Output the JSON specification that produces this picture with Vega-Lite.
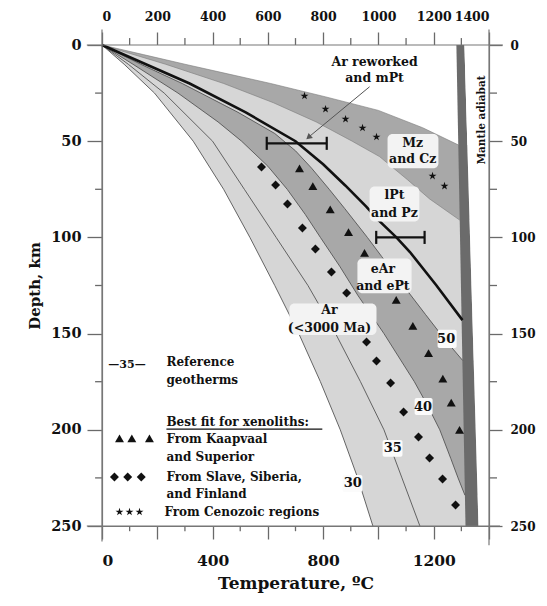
{
  "$schema": "https://vega.github.io/schema/vega-lite/v6.json",
  "width": 387,
  "height": 481,
  "autosize": {"type": "none"},
  "padding": {"left": 102, "top": 45, "right": 58, "bottom": 80},
  "background": "white",
  "config": {
    "view": {"stroke": null},
    "axis": {"labelFont": "DejaVu Serif", "labelFontWeight": "bold", "labelColor": "#111", "titleFont": "DejaVu Serif", "titleFontWeight": "bold", "titleColor": "#111", "domainColor": "#777", "domainWidth": 1.2, "tickColor": "#6a6a6a", "tickWidth": 1.3, "ticks": true, "grid": false, "zindex": 1},
    "text": {"font": "DejaVu Serif", "fontWeight": "bold", "color": "#111"}
  },
  "datasets": {
    "curves": [
      {"c": "top", "z": 0, "T": 0}, {"c": "top", "z": 5, "T": 150}, {"c": "top", "z": 10, "T": 300}, {"c": "top", "z": 15, "T": 455}, {"c": "top", "z": 20, "T": 610}, {"c": "top", "z": 27, "T": 810}, {"c": "top", "z": 34, "T": 1000}, {"c": "top", "z": 43, "T": 1160}, {"c": "top", "z": 52, "T": 1290},
      {"c": "b2", "z": 0, "T": 0}, {"c": "b2", "z": 10, "T": 230}, {"c": "b2", "z": 20, "T": 440}, {"c": "b2", "z": 30, "T": 620}, {"c": "b2", "z": 40, "T": 775}, {"c": "b2", "z": 50, "T": 905}, {"c": "b2", "z": 58, "T": 1004}, {"c": "b2", "z": 70, "T": 1105}, {"c": "b2", "z": 80, "T": 1185}, {"c": "b2", "z": 91, "T": 1294},
      {"c": "b3", "z": 0, "T": 0}, {"c": "b3", "z": 10, "T": 140}, {"c": "b3", "z": 20, "T": 290}, {"c": "b3", "z": 35, "T": 492}, {"c": "b3", "z": 46, "T": 625}, {"c": "b3", "z": 55, "T": 700}, {"c": "b3", "z": 64, "T": 758}, {"c": "b3", "z": 75, "T": 822}, {"c": "b3", "z": 85, "T": 878}, {"c": "b3", "z": 100, "T": 960}, {"c": "b3", "z": 110, "T": 1012}, {"c": "b3", "z": 125, "T": 1090}, {"c": "b3", "z": 140, "T": 1170}, {"c": "b3", "z": 153, "T": 1240}, {"c": "b3", "z": 164, "T": 1305},
      {"c": "b4", "z": 0, "T": 0}, {"c": "b4", "z": 10, "T": 112}, {"c": "b4", "z": 25, "T": 275}, {"c": "b4", "z": 40, "T": 420}, {"c": "b4", "z": 50, "T": 505}, {"c": "b4", "z": 63, "T": 600}, {"c": "b4", "z": 75, "T": 670}, {"c": "b4", "z": 88, "T": 735}, {"c": "b4", "z": 100, "T": 790}, {"c": "b4", "z": 115, "T": 860}, {"c": "b4", "z": 130, "T": 925}, {"c": "b4", "z": 150, "T": 1020}, {"c": "b4", "z": 175, "T": 1130}, {"c": "b4", "z": 188, "T": 1180}, {"c": "b4", "z": 200, "T": 1222}, {"c": "b4", "z": 215, "T": 1262}, {"c": "b4", "z": 225, "T": 1288}, {"c": "b4", "z": 234, "T": 1313},
      {"c": "g35", "z": 0, "T": 0}, {"c": "g35", "z": 10, "T": 95}, {"c": "g35", "z": 25, "T": 225}, {"c": "g35", "z": 50, "T": 400}, {"c": "g35", "z": 75, "T": 515}, {"c": "g35", "z": 100, "T": 630}, {"c": "g35", "z": 125, "T": 745}, {"c": "g35", "z": 150, "T": 845}, {"c": "g35", "z": 175, "T": 935}, {"c": "g35", "z": 200, "T": 1020}, {"c": "g35", "z": 225, "T": 1085}, {"c": "g35", "z": 250, "T": 1150},
      {"c": "g30", "z": 0, "T": 0}, {"c": "g30", "z": 10, "T": 80}, {"c": "g30", "z": 25, "T": 190}, {"c": "g30", "z": 50, "T": 330}, {"c": "g30", "z": 75, "T": 440}, {"c": "g30", "z": 100, "T": 535}, {"c": "g30", "z": 125, "T": 625}, {"c": "g30", "z": 150, "T": 712}, {"c": "g30", "z": 175, "T": 790}, {"c": "g30", "z": 200, "T": 862}, {"c": "g30", "z": 225, "T": 925}, {"c": "g30", "z": 250, "T": 980},
      {"c": "ar", "z": 0, "T": 0}, {"c": "ar", "z": 20, "T": 317}, {"c": "ar", "z": 35, "T": 520}, {"c": "ar", "z": 50, "T": 700}, {"c": "ar", "z": 62, "T": 800}, {"c": "ar", "z": 73, "T": 880}, {"c": "ar", "z": 84, "T": 956}, {"c": "ar", "z": 91, "T": 1000}, {"c": "ar", "z": 100, "T": 1065}, {"c": "ar", "z": 107.6, "T": 1114}, {"c": "ar", "z": 125, "T": 1210}, {"c": "ar", "z": 143, "T": 1304}
    ],
    "adiabat": [
      {"z": 0, "T": 1282, "T2": 1311},
      {"z": 250, "T": 1315, "T2": 1362}
    ],
    "errbar": [
      {"z": 51.1, "T": 596, "T2": 813},
      {"z": 100, "T": 992, "T2": 1167}
    ],
    "caps": [
      {"T": 596, "z": 47.7, "z2": 54.5}, {"T": 813, "z": 47.7, "z2": 54.5},
      {"T": 992, "z": 96.6, "z2": 103.4}, {"T": 1167, "z": 96.6, "z2": 103.4}
    ],
    "arrow": [
      {"T": 968, "z": 21.7}, {"T": 744, "z": 48.3}
    ],
    "arrowhead": [
      {"T": 747, "z": 48.0}
    ],
    "xeno": [
      {"k": "tri", "T": 714.5, "z": 64.1}, {"k": "tri", "T": 762.7, "z": 73.3}, {"k": "tri", "T": 825.6, "z": 85.4}, {"k": "tri", "T": 891.8, "z": 97.2}, {"k": "tri", "T": 949.7, "z": 108.1}, {"k": "tri", "T": 1064.4, "z": 132.5}, {"k": "tri", "T": 1124.5, "z": 146}, {"k": "tri", "T": 1181.3, "z": 160.2}, {"k": "tri", "T": 1233, "z": 173.4}, {"k": "tri", "T": 1263.4, "z": 185.9}, {"k": "tri", "T": 1293.4, "z": 200.1},
      {"k": "dia", "T": 577, "z": 63.4}, {"k": "dia", "T": 628, "z": 72.8}, {"k": "dia", "T": 671, "z": 82.6}, {"k": "dia", "T": 725, "z": 95.1}, {"k": "dia", "T": 772, "z": 106}, {"k": "dia", "T": 830, "z": 118}, {"k": "dia", "T": 885, "z": 128.9}, {"k": "dia", "T": 957, "z": 154.4}, {"k": "dia", "T": 993, "z": 164.2}, {"k": "dia", "T": 1044, "z": 175.7}, {"k": "dia", "T": 1091, "z": 190.7}, {"k": "dia", "T": 1145, "z": 203.7}, {"k": "dia", "T": 1185, "z": 214.7}, {"k": "dia", "T": 1232, "z": 225.6}, {"k": "dia", "T": 1279, "z": 239.1},
      {"k": "star", "T": 732.6, "z": 26.5}, {"k": "star", "T": 808.6, "z": 33.3}, {"k": "star", "T": 881, "z": 38.5}, {"k": "star", "T": 942.5, "z": 43.1}, {"k": "star", "T": 993, "z": 47.8}, {"k": "star", "T": 1195.7, "z": 68.1}, {"k": "star", "T": 1239, "z": 73.3},
      {"k": "tri", "T": 63.3, "z": 204.5}, {"k": "tri", "T": 107.9, "z": 204.5}, {"k": "tri", "T": 171.6, "z": 204.5},
      {"k": "dia", "T": 45, "z": 224.5}, {"k": "dia", "T": 93, "z": 224.5}, {"k": "dia", "T": 142, "z": 224.5},
      {"k": "star", "T": 63.3, "z": 242.7}, {"k": "star", "T": 99.5, "z": 242.7}, {"k": "star", "T": 135.7, "z": 242.7}
    ],
    "boxes": [
      {"g": "region", "T": 1033, "T2": 1217, "z": 46.3, "z2": 64},
      {"g": "region", "T": 968, "T2": 1148, "z": 73.6, "z2": 91.8},
      {"g": "region", "T": 924, "T2": 1120, "z": 111, "z2": 129},
      {"g": "region", "T": 678, "T2": 993, "z": 134.3, "z2": 150.7},
      {"g": "num", "T": 1214, "T2": 1283, "z": 148, "z2": 157.5},
      {"g": "num", "T": 1131, "T2": 1196, "z": 183.5, "z2": 192.3},
      {"g": "num", "T": 1015, "T2": 1087, "z": 205.3, "z2": 214},
      {"g": "num", "T": 870, "T2": 942, "z": 223.5, "z2": 232.3}
    ],
    "labels": [
      {"g": "region", "text": "Ar reworked", "T": 986, "z": 8.7},
      {"g": "region", "text": "and mPt", "T": 986, "z": 17.3},
      {"g": "region", "text": "Mz", "T": 1124, "z": 50.9},
      {"g": "region", "text": "and Cz", "T": 1124, "z": 59.3},
      {"g": "region", "text": "lPt", "T": 1058, "z": 78},
      {"g": "region", "text": "and Pz", "T": 1058, "z": 87.2},
      {"g": "region", "text": "eAr", "T": 1016, "z": 116.6},
      {"g": "region", "text": "and ePt", "T": 1016, "z": 125.1},
      {"g": "region", "text": "Ar", "T": 823, "z": 137.7},
      {"g": "region", "text": "(<3000 Ma)", "T": 823, "z": 147.2},
      {"g": "num", "text": "50", "T": 1245, "z": 153},
      {"g": "num", "text": "40", "T": 1161, "z": 188},
      {"g": "num", "text": "35", "T": 1052, "z": 209.3},
      {"g": "num", "text": "30", "T": 907, "z": 227.8},
      {"g": "key", "text": "—35—", "T": 90.4, "z": 166.3},
      {"g": "legend", "text": "Reference", "T": 233, "z": 164.8},
      {"g": "legend", "text": "geotherms", "T": 233, "z": 174.1},
      {"g": "legend", "text": "Best fit for xenoliths:", "T": 233, "z": 195.9},
      {"g": "legend", "text": "From Kaapvaal", "T": 233, "z": 204.8},
      {"g": "legend", "text": "and Superior", "T": 233, "z": 214.1},
      {"g": "legend", "text": "From Slave, Siberia,", "T": 233, "z": 224.5},
      {"g": "legend", "text": "and Finland", "T": 233, "z": 233.4},
      {"g": "legend", "text": "From Cenozoic regions", "T": 226, "z": 242.7},
      {"g": "mantle", "text": "Mantle adiabat", "T": 1373, "z": 39}
    ],
    "underline": [
      {"T": 233, "T2": 797, "z": 199.6}
    ],
    "minor": [
      {"T": 100, "T2": 100, "z": 250, "z2": 252.7}, {"T": 300, "T2": 300, "z": 250, "z2": 252.7}, {"T": 500, "T2": 500, "z": 250, "z2": 252.7}, {"T": 700, "T2": 700, "z": 250, "z2": 252.7}, {"T": 900, "T2": 900, "z": 250, "z2": 252.7}, {"T": 1100, "T2": 1100, "z": 250, "z2": 252.7}, {"T": 1300, "T2": 1300, "z": 250, "z2": 252.7},
      {"T": 100, "T2": 100, "z": 0, "z2": -3.6}, {"T": 300, "T2": 300, "z": 0, "z2": -3.6}, {"T": 500, "T2": 500, "z": 0, "z2": -3.6}, {"T": 700, "T2": 700, "z": 0, "z2": -3.6}, {"T": 900, "T2": 900, "z": 0, "z2": -3.6}, {"T": 1100, "T2": 1100, "z": 0, "z2": -3.6}, {"T": 1300, "T2": 1300, "z": 0, "z2": -3.6},
      {"T": 0, "T2": -25, "z": 25, "z2": 25}, {"T": 0, "T2": -25, "z": 75, "z2": 75}, {"T": 0, "T2": -25, "z": 125, "z2": 125}, {"T": 0, "T2": -25, "z": 175, "z2": 175}, {"T": 0, "T2": -25, "z": 225, "z2": 225},
      {"T": 1400, "T2": 1429, "z": 25, "z2": 25}, {"T": 1400, "T2": 1429, "z": 75, "z2": 75}, {"T": 1400, "T2": 1429, "z": 125, "z2": 125}, {"T": 1400, "T2": 1429, "z": 175, "z2": 175}, {"T": 1400, "T2": 1429, "z": 225, "z2": 225}
    ],
    "frame": [
      {"T": -55, "T2": 1450, "z": 0, "z2": 0},
      {"T": -55, "T2": 1440, "z": 250, "z2": 250},
      {"T": 0, "T2": 0, "z": -8, "z2": 258},
      {"T": 1400, "T2": 1400, "z": -8, "z2": 260}
    ]
  },
  "resolve": {"axis": {"x": "independent", "y": "independent"}},
  "layer": [
    {
      "data": {"name": "curves"},
      "transform": [{"filter": "datum.c == 'g30'"}],
      "mark": {"type": "area", "orient": "horizontal", "color": "#d6d6d6"},
      "encoding": {
        "y": {"field": "z", "type": "quantitative", "scale": {"domain": [0, 250], "reverse": true, "nice": false, "zero": false},
          "axis": {"orient": "left", "values": [0, 50, 100, 150, 200, 250], "format": "d", "tickSize": 15, "labelFontSize": 14.5, "labelPadding": 6, "title": "Depth, km", "titleFontSize": 15, "titlePadding": 8}},
        "x": {"field": "T", "type": "quantitative", "scale": {"domain": [0, 1400], "nice": false, "zero": false},
          "axis": {"orient": "bottom", "values": [0, 200, 400, 600, 800, 1000, 1200, 1400], "format": "d", "labelExpr": "datum.value % 400 == 0 ? datum.label : ''", "tickSize": 13, "labelFontSize": 15.5, "labelPadding": 14, "title": "Temperature, ºC", "titleFontSize": 17, "titlePadding": 7}},
        "x2": {"datum": 1400}
      }
    },
    {
      "data": {"name": "curves"},
      "transform": [{"filter": "datum.c == 'b4'"}],
      "mark": {"type": "area", "orient": "horizontal", "color": "#a8a8a8"},
      "encoding": {
        "y": {"field": "z", "type": "quantitative", "axis": null},
        "x": {"field": "T", "type": "quantitative", "axis": null},
        "x2": {"datum": 1400}
      }
    },
    {
      "data": {"name": "curves"},
      "transform": [{"filter": "datum.c == 'b3'"}],
      "mark": {"type": "area", "orient": "horizontal", "color": "#d6d6d6"},
      "encoding": {
        "y": {"field": "z", "type": "quantitative", "axis": null},
        "x": {"field": "T", "type": "quantitative", "axis": null},
        "x2": {"datum": 1400}
      }
    },
    {
      "data": {"name": "curves"},
      "transform": [{"filter": "datum.c == 'b2'"}],
      "mark": {"type": "area", "orient": "horizontal", "color": "#a8a8a8"},
      "encoding": {
        "y": {"field": "z", "type": "quantitative", "axis": null},
        "x": {"field": "T", "type": "quantitative", "axis": null},
        "x2": {"datum": 1400}
      }
    },
    {
      "data": {"name": "curves"},
      "transform": [{"filter": "datum.c == 'top'"}],
      "mark": {"type": "area", "orient": "horizontal", "color": "#ffffff"},
      "encoding": {
        "y": {"field": "z", "type": "quantitative", "axis": null},
        "x": {"field": "T", "type": "quantitative", "axis": null},
        "x2": {"datum": 1400}
      }
    },
    {
      "data": {"name": "adiabat"},
      "mark": {"type": "area", "orient": "horizontal", "color": "#6b6b6b"},
      "encoding": {
        "y": {"field": "z", "type": "quantitative", "axis": null},
        "x": {"field": "T", "type": "quantitative", "axis": null},
        "x2": {"field": "T2"}
      }
    },
    {
      "data": {"name": "adiabat"},
      "mark": {"type": "area", "orient": "horizontal", "color": "#ffffff"},
      "encoding": {
        "y": {"field": "z", "type": "quantitative", "axis": null},
        "x": {"field": "T2", "type": "quantitative", "axis": null},
        "x2": {"datum": 1400}
      }
    },
    {
      "data": {"name": "curves"},
      "transform": [{"filter": "datum.c == 'top' || datum.c == 'b2'"}],
      "mark": {"type": "line", "color": "#7a7a7a", "strokeWidth": 0.6},
      "encoding": {
        "y": {"field": "z", "type": "quantitative", "axis": null},
        "x": {"field": "T", "type": "quantitative", "axis": null},
        "detail": {"field": "c"},
        "order": {"field": "z", "type": "quantitative"}
      }
    },
    {
      "data": {"name": "curves"},
      "transform": [{"filter": "datum.c == 'g30' || datum.c == 'g35' || datum.c == 'b3' || datum.c == 'b4'"}],
      "mark": {"type": "line", "color": "#555555", "strokeWidth": 0.9},
      "encoding": {
        "y": {"field": "z", "type": "quantitative", "axis": null},
        "x": {"field": "T", "type": "quantitative", "axis": null},
        "detail": {"field": "c"},
        "order": {"field": "z", "type": "quantitative"}
      }
    },
    {
      "data": {"name": "curves"},
      "transform": [{"filter": "datum.c == 'ar'"}],
      "mark": {"type": "line", "color": "#111111", "strokeWidth": 2.6},
      "encoding": {
        "y": {"field": "z", "type": "quantitative", "axis": null},
        "x": {"field": "T", "type": "quantitative", "axis": null},
        "order": {"field": "z", "type": "quantitative"}
      }
    },
    {
      "data": {"name": "errbar"},
      "mark": {"type": "rule", "color": "#111111", "strokeWidth": 2.2},
      "encoding": {
        "y": {"field": "z", "type": "quantitative", "axis": null},
        "x": {"field": "T", "type": "quantitative", "axis": null},
        "x2": {"field": "T2"}
      }
    },
    {
      "data": {"name": "caps"},
      "mark": {"type": "rule", "color": "#111111", "strokeWidth": 2.2},
      "encoding": {
        "y": {"field": "z", "type": "quantitative", "axis": null},
        "y2": {"field": "z2"},
        "x": {"field": "T", "type": "quantitative", "axis": null}
      }
    },
    {
      "data": {"name": "arrow"},
      "mark": {"type": "line", "color": "#555555", "strokeWidth": 1},
      "encoding": {
        "y": {"field": "z", "type": "quantitative", "axis": null},
        "x": {"field": "T", "type": "quantitative", "axis": null}
      }
    },
    {
      "data": {"name": "arrowhead"},
      "mark": {"type": "point", "shape": "triangle-up", "angle": 230, "size": 45, "filled": true, "color": "#555555", "opacity": 1},
      "encoding": {
        "y": {"field": "z", "type": "quantitative", "axis": null},
        "x": {"field": "T", "type": "quantitative", "axis": null}
      }
    },
    {
      "data": {"name": "xeno"},
      "transform": [{"filter": "datum.k == 'tri'"}],
      "mark": {"type": "point", "shape": "triangle-up", "size": 80, "filled": true, "color": "#111111", "opacity": 1},
      "encoding": {
        "y": {"field": "z", "type": "quantitative", "axis": null},
        "x": {"field": "T", "type": "quantitative", "axis": null}
      }
    },
    {
      "data": {"name": "xeno"},
      "transform": [{"filter": "datum.k == 'dia'"}],
      "mark": {"type": "point", "shape": "diamond", "size": 80, "filled": true, "color": "#111111", "opacity": 1},
      "encoding": {
        "y": {"field": "z", "type": "quantitative", "axis": null},
        "x": {"field": "T", "type": "quantitative", "axis": null}
      }
    },
    {
      "data": {"name": "xeno"},
      "transform": [{"filter": "datum.k == 'star'"}],
      "mark": {"type": "point", "shape": "M0,-1L0.2245,-0.309L0.951,-0.309L0.363,0.118L0.588,0.809L0,0.382L-0.588,0.809L-0.363,0.118L-0.951,-0.309L-0.2245,-0.309Z", "size": 70, "filled": true, "color": "#111111", "opacity": 1},
      "encoding": {
        "y": {"field": "z", "type": "quantitative", "axis": null},
        "x": {"field": "T", "type": "quantitative", "axis": null}
      }
    },
    {
      "data": {"name": "boxes"},
      "transform": [{"filter": "datum.g == 'region'"}],
      "mark": {"type": "rect", "color": "#f3f3f3", "cornerRadius": 5},
      "encoding": {
        "y": {"field": "z", "type": "quantitative", "axis": null},
        "y2": {"field": "z2"},
        "x": {"field": "T", "type": "quantitative", "axis": null},
        "x2": {"field": "T2"}
      }
    },
    {
      "data": {"name": "boxes"},
      "transform": [{"filter": "datum.g == 'num'"}],
      "mark": {"type": "rect", "color": "#fbfbfb", "cornerRadius": 2},
      "encoding": {
        "y": {"field": "z", "type": "quantitative", "axis": null},
        "y2": {"field": "z2"},
        "x": {"field": "T", "type": "quantitative", "axis": null},
        "x2": {"field": "T2"}
      }
    },
    {
      "data": {"name": "labels"},
      "transform": [{"filter": "datum.g == 'region'"}],
      "mark": {"type": "text", "align": "center", "baseline": "middle", "fontSize": 12.5},
      "encoding": {
        "y": {"field": "z", "type": "quantitative", "axis": null},
        "x": {"field": "T", "type": "quantitative", "axis": null},
        "text": {"field": "text"}
      }
    },
    {
      "data": {"name": "labels"},
      "transform": [{"filter": "datum.g == 'num'"}],
      "mark": {"type": "text", "align": "center", "baseline": "middle", "fontSize": 13},
      "encoding": {
        "y": {"field": "z", "type": "quantitative", "axis": null},
        "x": {"field": "T", "type": "quantitative", "axis": null},
        "text": {"field": "text"}
      }
    },
    {
      "data": {"name": "labels"},
      "transform": [{"filter": "datum.g == 'key'"}],
      "mark": {"type": "text", "align": "center", "baseline": "middle", "fontSize": 11},
      "encoding": {
        "y": {"field": "z", "type": "quantitative", "axis": null},
        "x": {"field": "T", "type": "quantitative", "axis": null},
        "text": {"field": "text"}
      }
    },
    {
      "data": {"name": "labels"},
      "transform": [{"filter": "datum.g == 'legend'"}],
      "mark": {"type": "text", "align": "left", "baseline": "middle", "fontSize": 12},
      "encoding": {
        "y": {"field": "z", "type": "quantitative", "axis": null},
        "x": {"field": "T", "type": "quantitative", "axis": null},
        "text": {"field": "text"}
      }
    },
    {
      "data": {"name": "labels"},
      "transform": [{"filter": "datum.g == 'mantle'"}],
      "mark": {"type": "text", "align": "center", "baseline": "middle", "fontSize": 10.5, "angle": 270},
      "encoding": {
        "y": {"field": "z", "type": "quantitative", "axis": null},
        "x": {"field": "T", "type": "quantitative", "axis": null},
        "text": {"field": "text"}
      }
    },
    {
      "data": {"name": "underline"},
      "mark": {"type": "rule", "color": "#111111", "strokeWidth": 1.2},
      "encoding": {
        "y": {"field": "z", "type": "quantitative", "axis": null},
        "x": {"field": "T", "type": "quantitative", "axis": null},
        "x2": {"field": "T2"}
      }
    },
    {
      "data": {"name": "minor"},
      "mark": {"type": "rule", "color": "#6a6a6a", "strokeWidth": 1.3},
      "encoding": {
        "y": {"field": "z", "type": "quantitative", "axis": null},
        "y2": {"field": "z2"},
        "x": {"field": "T", "type": "quantitative", "axis": null},
        "x2": {"field": "T2"}
      }
    },
    {
      "data": {"name": "frame"},
      "mark": {"type": "rule", "color": "#777777", "strokeWidth": 1.2},
      "encoding": {
        "y": {"field": "z", "type": "quantitative",
          "axis": {"orient": "right", "values": [0, 50, 100, 150, 200, 250], "format": "d", "tickSize": 13, "labelFontSize": 12, "labelPadding": 8, "title": null}},
        "y2": {"field": "z2"},
        "x": {"field": "T", "type": "quantitative",
          "axis": {"orient": "top", "values": [0, 200, 400, 600, 800, 1000, 1200, 1400], "format": "d", "tickSize": 13, "labelFontSize": 12.5, "labelPadding": 9, "title": null}},
        "x2": {"field": "T2"}
      }
    }
  ]
}
